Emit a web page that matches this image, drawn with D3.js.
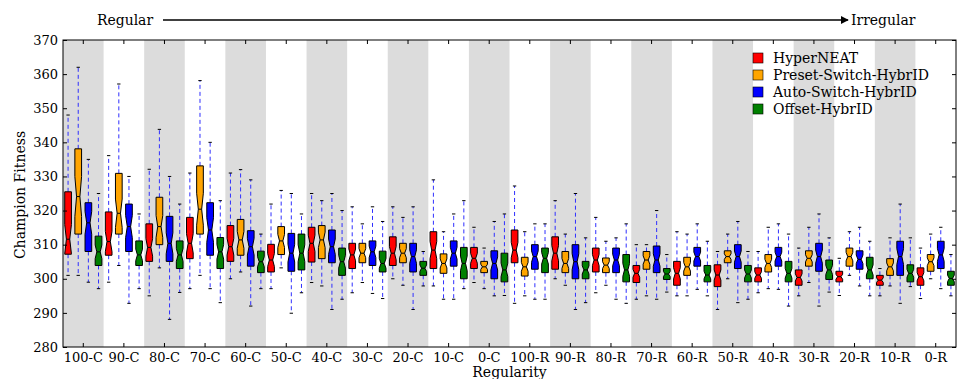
<!DOCTYPE html>
<html>
<head>
<meta charset="utf-8">
<script src="https://cdn.jsdelivr.net/npm/d3@7"></script>
<style>
  html, body { margin: 0; padding: 0; background: #fff; }
  svg { display: block; }
  .tick text { font-family: "DejaVu Serif", serif; font-size: 13px; fill: #000; }
</style>
</head>
<body>
<svg id="chart" width="958" height="379"></svg>
<script>
// Environment regularity levels, from fully regular (C) to fully irregular (R)
const categories = ["100-C","90-C","80-C","70-C","60-C","50-C","40-C","30-C","20-C","10-C","0-C",
                    "100-R","90-R","80-R","70-R","60-R","50-R","40-R","30-R","20-R","10-R","0-R"];

const seriesNames = ["HyperNEAT", "Preset-Switch-HybrID", "Auto-Switch-HybrID", "Offset-HybrID"];

// Five-number summaries per category: [whisker low, Q1, median, Q3, whisker high]
const hyperNEAT = [
  [301.0,307.2,311.6,325.5,348.0],[299.0,306.9,310.9,319.6,336.1],[295.0,305.1,309.2,316.1,332.1],
  [297.1,305.9,310.4,318.0,331.0],[300.0,305.1,309.4,315.6,331.0],[297.1,302.0,305.5,310.1,321.9],
  [298.9,304.9,310.4,315.1,325.0],[295.9,303.0,307.0,310.4,321.1],[300.0,303.9,307.5,312.3,321.1],
  [297.9,303.0,308.4,313.8,329.0],[298.9,303.0,306.0,309.2,315.1],[292.8,304.7,308.4,314.3,327.2],
  [300.0,302.8,307.5,312.3,322.9],[295.9,302.0,305.5,309.0,318.0],[294.0,298.9,301.6,303.9,310.0],
  [295.0,298.1,301.6,305.1,313.8],[291.0,297.7,301.1,304.1,308.0],[295.9,299.1,301.1,303.2,308.0],
  [295.0,298.1,300.4,302.6,309.0],[295.1,299.1,300.6,302.2,306.0],[295.0,298.1,299.6,301.0,303.0],
  [294.2,298.1,300.6,303.2,309.0]
];
const presetSwitch = [
  [301.0,313.1,324.1,338.1,362.0],[303.9,313.1,319.2,330.9,357.1],[303.2,310.0,315.3,323.9,343.8],
  [301.0,313.1,320.4,333.1,358.1],[302.0,306.9,311.4,317.4,332.0],[303.2,307.1,311.1,315.3,325.9],
  [297.9,305.9,311.4,315.6,322.9],[298.9,304.7,307.5,310.4,316.1],[298.1,304.7,307.5,310.4,318.0],
  [294.0,301.6,304.5,307.3,313.8],[297.1,301.8,303.5,305.1,309.0],[295.0,300.8,303.5,306.3,313.8],
  [298.1,301.8,304.5,308.0,313.1],[298.1,301.8,304.0,306.1,311.0],[295.0,302.8,305.5,308.0,310.0],
  [295.0,301.0,303.5,306.3,313.1],[300.0,304.7,306.5,308.2,313.1],[297.1,302.0,304.5,307.1,315.1],
  [298.9,303.7,306.0,308.2,315.1],[301.0,303.7,306.5,309.0,313.8],[297.9,301.0,303.5,305.9,312.0],
  [300.0,302.2,305.0,307.1,313.1]
];
const autoSwitch = [
  [299.0,308.0,316.4,322.3,335.0],[292.8,308.0,315.3,321.9,330.0],[288.1,305.1,310.4,318.3,330.0],
  [297.1,306.9,314.3,322.3,340.0],[292.0,303.7,309.4,314.1,329.0],[289.9,302.2,307.5,313.3,325.0],
  [291.0,304.7,309.4,314.3,325.0],[295.7,303.9,307.9,311.1,321.1],[291.0,302.0,306.5,310.4,321.1],
  [294.0,303.7,307.5,311.1,319.0],[295.0,300.0,304.5,308.2,316.8],[294.0,302.8,306.5,310.0,316.1],
  [291.0,300.0,305.0,310.0,325.0],[294.0,301.8,305.5,309.0,312.0],[294.0,301.8,305.5,309.6,320.0],
  [296.9,303.7,306.5,309.2,316.1],[293.0,303.0,306.5,310.0,316.8],[296.9,303.7,306.5,309.2,316.1],
  [292.0,302.2,306.5,310.4,319.0],[297.9,302.8,305.7,308.2,315.1],[292.8,301.0,306.5,311.0,321.9],
  [297.1,303.0,307.0,311.0,315.1]
];
const offsetHybrID = [
  [297.1,303.9,307.9,312.5,325.0],[297.1,303.9,307.0,311.1,319.0],[296.0,303.0,307.0,311.1,321.9],
  [293.0,303.0,307.9,312.1,322.9],[297.1,301.8,305.0,308.1,313.1],[295.9,302.6,307.5,313.1,319.0],
  [294.0,301.0,305.0,309.0,320.0],[294.2,302.0,304.5,308.1,316.8],[297.9,301.0,303.1,305.1,308.0],
  [297.1,300.0,304.5,309.2,322.9],[295.1,299.1,302.6,307.5,319.0],[294.0,301.8,306.0,309.0,316.1],
  [293.0,300.0,302.6,305.1,312.0],[292.8,299.1,302.6,307.1,316.1],[296.1,299.8,301.4,303.0,307.1],
  [295.0,299.1,301.1,303.9,311.0],[294.0,299.1,301.4,303.9,308.0],[292.0,299.1,301.6,305.1,313.1],
  [296.1,299.8,302.6,305.5,312.0],[295.0,300.0,302.6,306.3,311.0],[297.7,299.1,301.6,304.1,312.0],
  [295.0,298.1,300.1,302.2,307.1]
];
const seriesData = [hyperNEAT, presetSwitch, autoSwitch, offsetHybrID];

const yTicks = [280, 290, 300, 310, 320, 330, 340, 350, 360, 370];
const sampleSize = 45;   // runs per configuration, used for the notch confidence interval

// Styling
const fillColors = ["#ff0000", "#ffa500", "#0000ff", "#008000"];
const bandFill = "#dcdcdc";
const serif = "'DejaVu Serif', serif";

const svg = d3.select("#chart");
const plot = { left: 63, right: 956, top: 40, bottom: 347 };

const x = d3.scaleBand().domain(categories).range([plot.left, plot.right]).paddingInner(0).paddingOuter(0);
const bw = x.bandwidth();
const offset = d3.scalePoint().domain(seriesNames).range([-0.375 * bw, 0.375 * bw]);
const y = d3.scaleLinear().domain([280, 370]).range([plot.bottom, plot.top]);
const boxW = 0.165 * bw;

// Alternating shaded bands
svg.append("g").selectAll("rect")
  .data(categories.filter((c, i) => i % 2 === 0))
  .join("rect")
  .attr("x", d => x(d)).attr("y", plot.top)
  .attr("width", bw).attr("height", plot.bottom - plot.top)
  .attr("fill", bandFill);

// Notched box outline
function notchPath(cx, s) {
  const [lo, q1, med, q3, hi] = s;
  const half = 1.57 * (q3 - q1) / Math.sqrt(sampleSize);
  const nLo = med - half, nHi = med + half;
  const l = cx - boxW / 2, r = cx + boxW / 2;
  const ml = cx - boxW / 4, mr = cx + boxW / 4;
  const pts = [[l, q1], [r, q1], [r, nLo], [mr, med], [r, nHi], [r, q3],
               [l, q3], [l, nHi], [ml, med], [l, nLo], [l, q1]];
  return d3.line().x(p => p[0]).y(p => y(p[1]))(pts) + "Z";
}

const boxes = svg.append("g");
seriesNames.forEach((name, si) => {
  const g = boxes.append("g").attr("class", "series");
  seriesData[si].forEach((s, ci) => {
    const cx = x(categories[ci]) + bw / 2 + offset(name);
    const [lo, q1, med, q3, hi] = s;
    // whiskers
    g.append("line").attr("x1", cx).attr("x2", cx).attr("y1", y(q3)).attr("y2", y(hi))
      .attr("stroke", "#2f2fff").attr("stroke-width", 1).attr("stroke-dasharray", "4,3");
    g.append("line").attr("x1", cx).attr("x2", cx).attr("y1", y(q1)).attr("y2", y(lo))
      .attr("stroke", "#2f2fff").attr("stroke-width", 1).attr("stroke-dasharray", "4,3");
    // caps
    [lo, hi].forEach(v => {
      g.append("line").attr("x1", cx - boxW / 4).attr("x2", cx + boxW / 4)
        .attr("y1", y(v)).attr("y2", y(v)).attr("stroke", "#000").attr("stroke-width", 1);
    });
    // box
    g.append("path").attr("d", notchPath(cx, s))
      .attr("fill", fillColors[si]).attr("stroke", "#000").attr("stroke-width", 1)
      .attr("stroke-linejoin", "miter");
    // median
    g.append("line").attr("x1", cx - boxW / 4).attr("x2", cx + boxW / 4)
      .attr("y1", y(med)).attr("y2", y(med)).attr("stroke", "#000").attr("stroke-width", 1);
  });
});

// Axes with inward ticks
const xAxisB = d3.axisBottom(x).tickSizeInner(-4).tickSizeOuter(0).tickPadding(6);
const gxb = svg.append("g").attr("transform", `translate(0,${plot.bottom})`).call(xAxisB);
gxb.select(".domain").remove();
gxb.selectAll(".tick line").attr("stroke", "#000");

const gxt = svg.append("g").attr("transform", `translate(0,${plot.top})`)
  .call(d3.axisTop(x).tickSizeInner(-4).tickSizeOuter(0).tickFormat(""));
gxt.select(".domain").remove();
gxt.selectAll(".tick line").attr("stroke", "#000");

const gyl = svg.append("g").attr("transform", `translate(${plot.left},0)`)
  .call(d3.axisLeft(y).tickValues(yTicks).tickSizeInner(-4).tickSizeOuter(0).tickPadding(5));
gyl.select(".domain").remove();
gyl.selectAll(".tick line").attr("stroke", "#000");

const gyr = svg.append("g").attr("transform", `translate(${plot.right},0)`)
  .call(d3.axisRight(y).tickValues(yTicks).tickSizeInner(-4).tickSizeOuter(0).tickFormat(""));
gyr.select(".domain").remove();
gyr.selectAll(".tick line").attr("stroke", "#000");

// Frame
svg.append("rect").attr("x", plot.left).attr("y", plot.top)
  .attr("width", plot.right - plot.left).attr("height", plot.bottom - plot.top)
  .attr("fill", "none").attr("stroke", "#000").attr("stroke-width", 1);

// Axis titles
svg.append("text").attr("x", (plot.left + plot.right) / 2).attr("y", 377)
  .attr("text-anchor", "middle").attr("font-family", serif).attr("font-size", 14)
  .text("Regularity");
svg.append("text").attr("transform", "translate(25,195) rotate(-90)")
  .attr("text-anchor", "middle").attr("font-family", serif).attr("font-size", 14)
  .text("Champion Fitness");

// Regular -> Irregular arrow
const defs = svg.append("defs");
defs.append("marker").attr("id", "arrowhead").attr("viewBox", "0 0 10 10")
  .attr("refX", 9).attr("refY", 5).attr("markerWidth", 8).attr("markerHeight", 8)
  .attr("markerUnits", "userSpaceOnUse").attr("orient", "auto")
  .append("path").attr("d", "M0,0 L10,5 L0,10 Z").attr("fill", "#000");
const headFont = "'DejaVu Serif Condensed', 'DejaVu Serif', serif";
svg.append("text").attr("x", 97).attr("y", 25).attr("font-family", headFont)
  .attr("font-size", 15.5).text("Regular");
svg.append("line").attr("x1", 163).attr("x2", 848).attr("y1", 20).attr("y2", 20)
  .attr("stroke", "#000").attr("stroke-width", 1.5).attr("marker-end", "url(#arrowhead)");
svg.append("text").attr("x", 851).attr("y", 25).attr("font-family", headFont)
  .attr("font-size", 15.5).text("Irregular");

// Legend
const legend = svg.append("g").attr("transform", "translate(753,53)");
seriesNames.forEach((name, i) => {
  const row = legend.append("g").attr("transform", `translate(0,${i * 17})`);
  row.append("rect").attr("x", 0).attr("y", 0).attr("width", 10).attr("height", 10)
    .attr("fill", fillColors[i]).attr("stroke", "#000").attr("stroke-width", 0.6);
  row.append("text").attr("x", 20).attr("y", 10).attr("font-family", serif)
    .attr("font-size", 14).text(name);
});
</script>
</body>
</html>
